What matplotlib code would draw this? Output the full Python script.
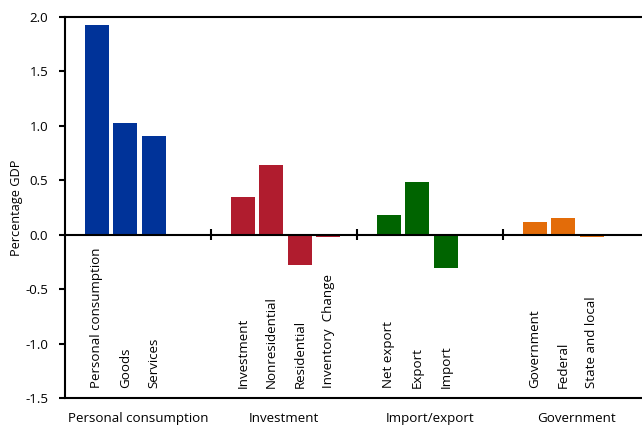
import numpy as np
import matplotlib
matplotlib.use("Agg")
import matplotlib.pyplot as plt
import matplotlib.transforms as mtransforms

plt.rcParams['font.family'] = ['Open Sans', 'DejaVu Sans']
plt.rcParams['axes.unicode_minus'] = False

# data
groups = ["Personal consumption", "Investment", "Import/export", "Government"]
consumption_labels = ["Personal consumption", "Goods", "Services"]
consumption_values = [1.93, 1.03, 0.91]
investment_labels = ["Investment", "Nonresidential", "Residential", "Inventory  Change"]
investment_values = [0.35, 0.64, -0.275, -0.02]
trade_labels = ["Net export", "Export", "Import"]
trade_values = [0.18, 0.485, -0.31]
government_labels = ["Government", "Federal", "State and local"]
government_values = [0.12, 0.155, -0.02]

series = [
    (consumption_labels, consumption_values, "#003399"),
    (investment_labels, investment_values, "#B01C2E"),
    (trade_labels, trade_values, "#006400"),
    (government_labels, government_values, "#E36C09"),
]

group_span = 5.0
step = 0.975
start = -1.06  # left edge of first group relative to first bar
fs = 9.6

fig = plt.figure(figsize=(6.42, 4.25), dpi=100)
ax = fig.add_axes([65 / 642, 1 - 398 / 425, (649 - 65) / 642, (398 - 17) / 425])

for g, (labels, values, color) in enumerate(series):
    x = g * group_span + np.arange(len(values)) * step + 0.03
    ax.bar(x, values, width=0.82, color=color, zorder=2)
    for xi, lab in zip(x, labels):
        ax.text(xi, -1.41, lab, rotation=90, ha="center", va="bottom", fontsize=fs)

left = start
right = start + group_span * len(groups)
ax.set_xlim(left, right)
ax.set_ylim(-1.5, 2.0)

# zero line with group separators
ax.axhline(0, color="black", lw=1.5, zorder=3)
bounds = [start + group_span * k for k in range(1, len(groups))]
ax.vlines(bounds, -0.05, 0.05, color="black", lw=1.5, zorder=3)

# group names under the axis
trans = mtransforms.blended_transform_factory(ax.transData, ax.transAxes)
for k, name in enumerate(groups):
    cx = start + group_span * k + group_span / 2
    ax.text(cx, -0.0525, name, transform=trans, ha="center", va="center", fontsize=fs)

ax.set_xticks([])
ax.set_yticks(np.arange(-1.5, 2.01, 0.5))
ax.set_yticklabels(["%.1f" % v for v in np.arange(-1.5, 2.01, 0.5)], fontsize=fs)
ax.tick_params(axis="y", direction="out", length=4, width=1.5, pad=8)
ax.set_ylabel("Percentage GDP", fontsize=9.2, labelpad=2)

for s in ["left", "top", "bottom", "right"]:
    ax.spines[s].set_linewidth(1.5)
    ax.spines[s].set_color("black")

fig.savefig("out.png", dpi=100)
